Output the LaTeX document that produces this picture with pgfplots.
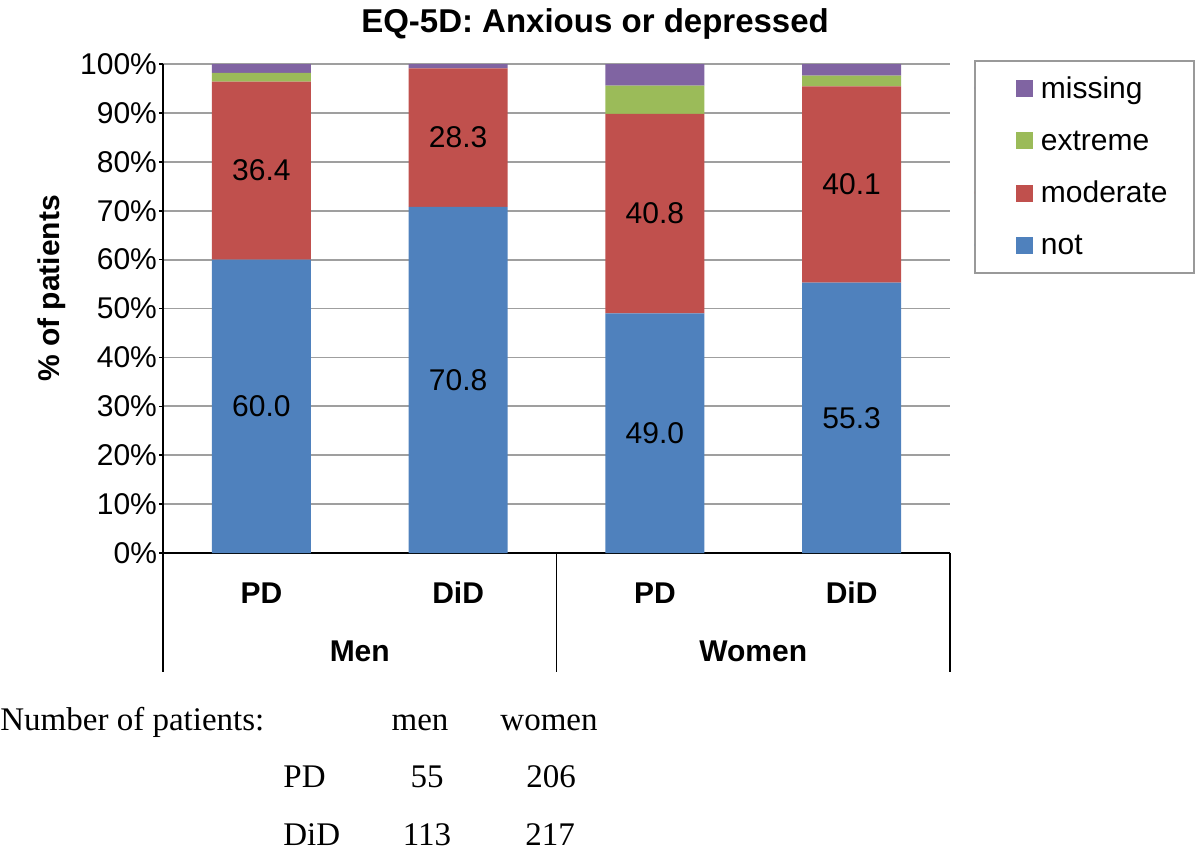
\documentclass[border=0pt]{standalone}
\usepackage{pgfplots}
\pgfplotsset{compat=1.18}
\usepackage{fontspec}
\setmainfont{Liberation Sans}
\newfontfamily\timesfont{Liberation Serif}
\definecolor{cnot}{HTML}{4F81BD}
\definecolor{cmod}{HTML}{C0504D}
\definecolor{cext}{HTML}{9BBB59}
\definecolor{cmis}{HTML}{8064A2}
\newcommand{\lbl}{\fontsize{15}{18}\selectfont}
\newcommand{\tbl}{\fontsize{16.5}{20}\selectfont\timesfont}
\newcommand{\lent}[1]{\makebox[76.5pt][l]{\rule[-3pt]{0pt}{13.5pt}#1}}

\begin{document}
\begin{tikzpicture}[x=0.5pt,y=-0.5pt]
\useasboundingbox (0,0) rectangle (1200,851);
\begin{axis}[
  at={(81.5pt,-276.5pt)}, anchor=south west,
  scale only axis, width=393.5pt, height=244.5pt,
  ybar stacked, bar width=49.5pt,
  xmin=-0.5, xmax=3.5, ymin=0, ymax=100,
  xtick=\empty,
  ytick={0,10,...,100},
  yticklabel={\pgfmathprintnumber{\tick}\%},
  /pgf/number format/assume math mode=true,
  tick label style={font=\lbl},
  yticklabel style={xshift=2.5pt},
  tick align=outside, major tick length=2pt,
  tick style={black, line width=0.8pt},
  ymajorgrids, grid style={gray!75, line width=0.9pt},
  axis x line*=bottom, axis y line*=left,
  axis line style={black, line width=0.9pt, -},
  clip=false,
  title={EQ-5D: Anxious or depressed},
  title style={font=\fontsize{16.5}{20}\selectfont\bfseries,
    at={(axis description cs:0.549,1.065)}, anchor=base, yshift=-6pt},
  ylabel={\% of patients},
  ylabel style={font=\lbl\bfseries, at={(axis description cs:-0.141,0.541)}, anchor=center},
  every axis plot post/.append style={
    legend image code/.code={
      \path (0pt,0pt) -- (0pt,1pt);
      \path[##1] (20.5pt,-4pt) rectangle (29pt,4.5pt);}},
  reverse legend,
  legend cell align=left,
  legend style={at={(1.0305,1.0082)}, anchor=north west, draw=gray!80, line width=0.9pt,
    inner xsep=0pt, inner ysep=7.75pt, row sep=14pt, column sep=4pt,
    nodes={inner sep=0pt}, font=\lbl},
]
\addplot[fill=cnot, draw=none] coordinates {(0,60.0) (1,70.8) (2,49.0) (3,55.3)};
\addplot[fill=cmod, draw=none] coordinates {(0,36.4) (1,28.3) (2,40.8) (3,40.1)};
\addplot[fill=cext, draw=none] coordinates {(0,1.8) (1,0) (2,5.8) (3,2.2)};
\addplot[fill=cmis, draw=none] coordinates {(0,1.8) (1,0.9) (2,4.4) (3,2.4)};
\legend{\lent{not},\lent{moderate},\lent{extreme},\lent{missing}}

% value labels sit in the middle of their segment
\coordinate (v1) at (axis cs:0,30.0);
\coordinate (v2) at (axis cs:0,78.2);
\coordinate (v3) at (axis cs:1,35.4);
\coordinate (v4) at (axis cs:1,84.95);
\coordinate (v5) at (axis cs:2,24.5);
\coordinate (v6) at (axis cs:2,69.4);
\coordinate (v7) at (axis cs:3,27.65);
\coordinate (v8) at (axis cs:3,75.35);

% category axis below
\draw[black, line width=0.9pt] (axis cs:-0.5,0) -- (axis cs:-0.5,-24.3);
\draw[black, line width=0.9pt] (axis cs:1.5,0) -- (axis cs:1.5,-24.3);
\draw[black, line width=0.9pt] (axis cs:3.5,0) -- (axis cs:3.5,-24.3);
\node[font=\lbl\bfseries] at (axis cs:0,-8.2) {PD};
\node[font=\lbl\bfseries] at (axis cs:1,-8.2) {DiD};
\node[font=\lbl\bfseries] at (axis cs:2,-8.2) {PD};
\node[font=\lbl\bfseries] at (axis cs:3,-8.2) {DiD};
\node[font=\lbl\bfseries] at (axis cs:0.5,-20.2) {Men};
\node[font=\lbl\bfseries] at (axis cs:2.5,-20.2) {Women};
\end{axis}

\node[font=\lbl] at (v1) {60.0};
\node[font=\lbl] at (v2) {36.4};
\node[font=\lbl] at (v3) {70.8};
\node[font=\lbl] at (v4) {28.3};
\node[font=\lbl] at (v5) {49.0};
\node[font=\lbl] at (v6) {40.8};
\node[font=\lbl] at (v7) {55.3};
\node[font=\lbl] at (v8) {40.1};

% patient counts
\node[font=\tbl, anchor=base west, inner sep=0pt] at (0,730) {Number of patients:};
\node[font=\tbl, anchor=base, inner sep=0pt] at (420,730) {men};
\node[font=\tbl, anchor=base, inner sep=0pt] at (549,730) {women};
\node[font=\tbl, anchor=base west, inner sep=0pt] at (283,787) {PD};
\node[font=\tbl, anchor=base, inner sep=0pt] at (427,787) {55};
\node[font=\tbl, anchor=base, inner sep=0pt] at (551,787) {206};
\node[font=\tbl, anchor=base west, inner sep=0pt] at (283,845) {DiD};
\node[font=\tbl, anchor=base, inner sep=0pt] at (427,845) {113};
\node[font=\tbl, anchor=base, inner sep=0pt] at (550,845) {217};
\end{tikzpicture}
\end{document}
